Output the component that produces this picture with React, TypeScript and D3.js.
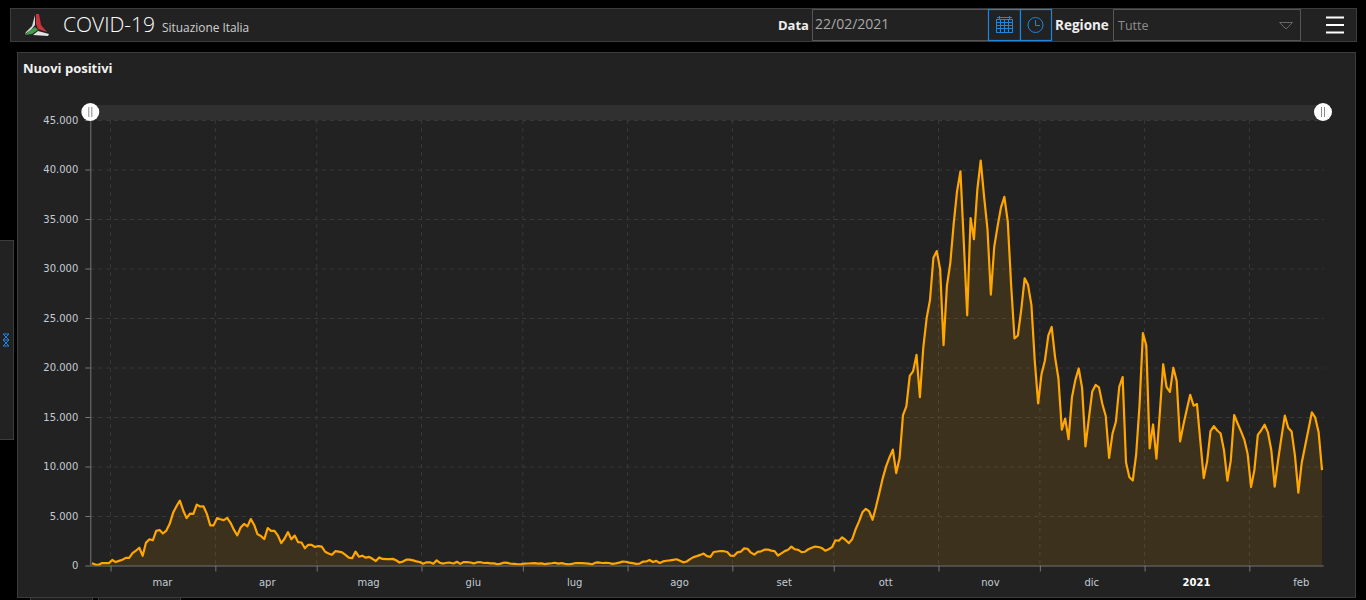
import React, { useEffect, useRef } from "react";
import * as d3 from "d3";

const startDate = new Date(2020, 1, 24);
const endDate = new Date(2021, 1, 23);

// nuovi positivi per giorno, mese per mese
const feb20 = [221, 93, 78, 250, 238, 240];
const mar20 = [561, 347, 466, 587, 769, 778, 1247, 1492, 1797, 977, 2313, 2651, 2547, 3497, 3590, 3233, 3526, 4207, 5322, 5986, 6557, 5560, 4789, 5249, 5210, 6153, 5959, 5974, 5217, 4050, 4053];
const apr20 = [4782, 4668, 4585, 4805, 4316, 3599, 3039, 3836, 4204, 3951, 4694, 4092, 3153, 2972, 2667, 3786, 3493, 3491, 3047, 2256, 2729, 3370, 2646, 3021, 2357, 2324, 1739, 2091, 2086, 1872];
const mag20 = [1965, 1900, 1389, 1221, 1075, 1444, 1401, 1327, 1083, 802, 744, 1402, 888, 992, 789, 875, 675, 451, 813, 665, 642, 652, 669, 531, 300, 397, 584, 593, 516, 416, 355];
const giu20 = [178, 318, 321, 177, 518, 270, 197, 280, 283, 202, 379, 163, 346, 338, 301, 210, 329, 333, 251, 262, 224, 218, 122, 190, 296, 259, 175, 174, 126, 142];
const lug20 = [187, 201, 223, 235, 192, 208, 138, 193, 229, 276, 188, 234, 169, 114, 162, 230, 233, 249, 219, 190, 129, 282, 306, 252, 275, 255, 170, 212, 289, 386, 379];
const ago20 = [295, 239, 159, 190, 384, 402, 552, 347, 463, 259, 412, 481, 523, 574, 629, 479, 320, 403, 642, 845, 947, 1071, 1210, 953, 878, 1367, 1411, 1462, 1444, 1365, 996];
const set20 = [978, 1326, 1397, 1733, 1695, 1297, 1108, 1370, 1434, 1597, 1616, 1501, 1458, 1008, 1229, 1452, 1585, 1907, 1638, 1587, 1350, 1392, 1640, 1786, 1912, 1869, 1766, 1494, 1648, 1851];
const ott20 = [2548, 2499, 2844, 2578, 2257, 2677, 3678, 4458, 5372, 5724, 5456, 4619, 5901, 7332, 8804, 10010, 10925, 11705, 9338, 10874, 15199, 16079, 19143, 19644, 21273, 17012, 21994, 24991, 26831, 31084, 31758];
const nov20 = [29907, 22253, 28244, 30550, 34505, 37809, 39811, 32616, 25271, 35098, 32961, 37978, 40902, 37255, 33979, 27354, 32191, 34283, 36176, 37242, 34767, 28337, 22930, 23232, 25853, 29003, 28352, 26323, 20648, 16377];
const dic20 = [19350, 20709, 23225, 24099, 21052, 18887, 13720, 14842, 12755, 16999, 18727, 19903, 17938, 12030, 14844, 17572, 18236, 17992, 16308, 15104, 10872, 13318, 14522, 18040, 19037, 10407, 8913, 8585, 11212, 16202, 23477];
const gen21 = [22211, 11831, 14245, 10800, 15378, 20331, 18020, 17533, 19978, 18627, 12532, 14242, 15774, 17246, 16146, 16310, 12545, 8824, 10497, 13571, 14078, 13633, 13331, 11629, 8562, 10593, 15204, 14372, 13574, 12715, 11252];
const feb21 = [7925, 9660, 13189, 13659, 14218, 13442, 11641, 7970, 10630, 12956, 15146, 13908, 13532, 11068, 7351, 10386, 12074, 13762, 15479, 14931, 13452, 9630];

const values = [feb20, mar20, apr20, mag20, giu20, lug20, ago20, set20, ott20, nov20, dic20, gen21, feb21].flat();

const monthStarts = d3.range(0, 12).map((i) => new Date(2020, 2 + i, 1));
const monthLabels = ["mar", "apr", "mag", "giu", "lug", "ago", "set", "ott", "nov", "dic", "2021", "feb"];
const yTicks = [0, 5000, 10000, 15000, 20000, 25000, 30000, 35000, 40000, 45000];

const UI_FONT = "'Open Sans', 'Noto Sans', sans-serif";
const AXIS_FONT = "'DejaVu Sans', sans-serif";
const PANEL = "#222222";
const EDGE = "#3c3c3c";
const BLUE = "#1f86e0";

const left = 90.3;
const right = 1323.7;
const top = 120;
const bottom = 565.5;

const x = d3.scaleTime().domain([startDate, endDate]).range([left, right]);
const y = d3.scaleLinear().domain([0, 45000]).range([bottom, top]);
const itFormat = d3.formatLocale({ decimal: ",", thousands: ".", grouping: [3], currency: ["€", ""] }).format(",d");

// il punto sta al centro della cella del giorno
const pointX = (i: number) => x(new Date(2020, 1, 24 + i, 12));

const App: React.FC = () => {
  const gridRef = useRef<SVGGElement>(null);
  const xAxisRef = useRef<SVGGElement>(null);
  const yAxisRef = useRef<SVGGElement>(null);

  useEffect(() => {
    document.body.style.margin = "0";
    document.body.style.background = "#000";

    const grid = d3.select(gridRef.current!);
    grid.selectAll("*").remove();
    grid
      .selectAll("line.h")
      .data(yTicks.slice(1))
      .join("line")
      .attr("x1", left)
      .attr("x2", right)
      .attr("y1", (d) => y(d) + 0.5)
      .attr("y2", (d) => y(d) + 0.5);
    grid
      .selectAll("line.v")
      .data(monthStarts)
      .join("line")
      .attr("x1", (d) => x(d))
      .attr("x2", (d) => x(d))
      .attr("y1", top)
      .attr("y2", bottom);
    grid.selectAll("line").attr("stroke", "#393939").attr("stroke-dasharray", "4,4");

    const xAxis = d3
      .axisBottom(x)
      .tickValues(monthStarts)
      .tickSize(6)
      .tickFormat((_, i) => monthLabels[i]);
    const xg = d3.select(xAxisRef.current!);
    xg.call(xAxis as any);
    xg.select(".domain").attr("stroke", "#777").attr("d", `M${left},0.5H${right}`);
    xg.selectAll(".tick line").attr("stroke", "#777");
    xg.selectAll<SVGTextElement, Date>(".tick text")
      .attr("x", (d) => x(d3.timeHour.offset(d, 365)) - x(d)) // circa 15 giorni dopo l'inizio del mese
      .attr("y", 13)
      .attr("fill", (_, i) => (monthLabels[i] === "2021" ? "#ffffff" : "#c2ccd4"))
      .attr("font-weight", (_, i) => (monthLabels[i] === "2021" ? "bold" : "normal"))
      .attr("font-size", 10)
      .attr("font-family", AXIS_FONT);

    const yAxis = d3.axisLeft(y).tickValues(yTicks).tickSize(5).tickFormat((d) => itFormat(d as number));
    const yg = d3.select(yAxisRef.current!);
    yg.call(yAxis as any);
    yg.select(".domain").attr("stroke", "#777").attr("d", `M0.5,${top}V${bottom}`);
    yg.selectAll(".tick line").attr("stroke", "#777");
    yg.selectAll(".tick text")
      .attr("x", -12)
      .attr("fill", "#c2ccd4")
      .attr("font-size", 10)
      .attr("font-family", AXIS_FONT);
  }, []);

  const area = d3
    .area<number>()
    .x((_, i) => pointX(i))
    .y0(bottom)
    .y1((d) => y(d));
  const line = d3
    .line<number>()
    .x((_, i) => pointX(i))
    .y((d) => y(d));

  return (
    <div style={{ position: "absolute", left: 0, top: 0, width: 1366, height: 600, overflow: "hidden", background: "#000" }}>
      <svg width={1366} height={600} style={{ display: "block" }}>
        {/* barra in alto */}
        <rect x={10.5} y={8.5} width={1346} height={33} fill={PANEL} stroke={EDGE} />
        <g>
          <path d="M36,14 L39,14 L41,25 L47,32 L38,29 L36,24 Z" fill="#c9343c" />
          <path d="M35,15 L35,25 L31,30 L25,34 L26,32 L32,26 Z" fill="#d8d8d8" />
          <path d="M35,27 L38,30 L32,34 L25,35 L29,31 Z" fill="#3f9c4c" />
          <path d="M38,31 L49,34 L48,36 L33,35 Z" fill="#e4e4e4" />
        </g>
        <text x={63} y={32} fontFamily={UI_FONT} fontWeight={300} fontSize={21} fill="#fff">COVID-19</text>
        <text x={162} y={32} fontFamily={UI_FONT} fontSize={11.9} fill="#d0d0d0">Situazione Italia</text>

        <text x={778} y={30} fontFamily={UI_FONT} fontWeight={700} fontSize={13} fill="#eee">Data</text>
        <rect x={812.5} y={9.5} width={176} height={31} fill={PANEL} stroke="#555" />
        <text x={815} y={29} fontFamily={UI_FONT} fontSize={14} fill="#a9a9a9">22/02/2021</text>
        <rect x={988.5} y={9.5} width={32} height={31} fill={PANEL} stroke={BLUE} strokeWidth={1.2} />
        <rect x={1020.5} y={9.5} width={31} height={31} fill={PANEL} stroke={BLUE} strokeWidth={1.2} />
        <g stroke={BLUE} fill="none" strokeWidth={1}>
          <rect x={996.5} y={19.5} width={16} height={13} />
          <path d="M997,17.5H1012M999.5,16V19M1009.5,16V19M997,22.5H1012M997,25.5H1012M997,28.5H1012M1000.5,20V32M1004.5,20V32M1008.5,20V32" />
          <circle cx={1035.5} cy={25} r={7.5} />
          <path d="M1035.5,20V25.5H1040" />
        </g>
        <text x={1055} y={30} fontFamily={UI_FONT} fontWeight={700} fontSize={13.5} fill="#eee">Regione</text>
        <rect x={1113.5} y={9.5} width={187} height={31} fill={PANEL} stroke="#555" />
        <text x={1118} y={30} fontFamily={UI_FONT} fontSize={12.5} fill="#8e8e8e">Tutte</text>
        <path d="M1279.5,22.5H1292.5L1286,29Z" fill="none" stroke="#666" />
        <path d="M1326,17.5H1344M1326,25H1344M1326,32.5H1344" stroke="#fff" strokeWidth={2} />

        {/* pannello laterale */}
        <rect x={-1} y={240.5} width={14.5} height={199} fill={PANEL} stroke={EDGE} />
        <path d="M3,334H9L3,340H9L3,346H9M3,334L9,340L3,346M9,334L3,340L9,346" fill="none" stroke={BLUE} strokeWidth={1} />

        {/* resti sotto il pannello */}
        <rect x={30.5} y={597} width={62} height={10} fill="#1c1c1c" stroke={EDGE} />
        <rect x={98.5} y={597} width={82} height={10} fill="#1c1c1c" stroke={EDGE} />

        {/* pannello grafico */}
        <rect x={17.5} y={52.5} width={1338} height={545} fill={PANEL} stroke={EDGE} />
        <text x={23} y={73} fontFamily={UI_FONT} fontWeight={700} fontSize={13} fill="#f2f2f2">Nuovi positivi</text>

        <rect x={left} y={105} width={right - left} height={15} fill="#303030" />
        <g ref={gridRef} />
        <path d={area(values) ?? ""} fill="#ffa500" fillOpacity={0.12} />
        <path d={line(values) ?? ""} fill="none" stroke="#ffa600" strokeWidth={2.2} strokeLinejoin="round" />
        <g ref={xAxisRef} transform={`translate(0,${bottom})`} />
        <g ref={yAxisRef} transform={`translate(${left},0)`} />

        {/* cursori dello scrollbar */}
        {[left, right - 0.7].map((cx) => (
          <g key={cx}>
            <circle cx={cx} cy={112} r={9} fill="#fff" />
            <path d={`M${cx - 1.5},107V117M${cx + 1.5},107V117`} stroke="#888" strokeWidth={1} />
          </g>
        ))}
      </svg>
    </div>
  );
};

export default App;
